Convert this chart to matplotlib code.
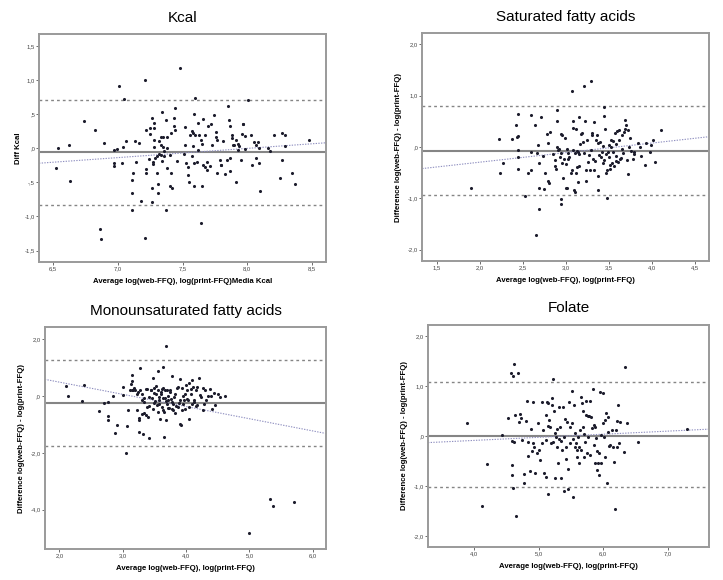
import matplotlib
matplotlib.use("Agg")
import matplotlib.pyplot as plt
import numpy as np

plt.rcParams['font.family'] = ['Liberation Sans', 'DejaVu Sans']

# ---- Kcal: (average, difference) ----
kcal_pts = np.array([
    (6.52, -0.29), (6.54, 0.00), (6.62, 0.04), (6.63, -0.48), (6.74, 0.40), (6.82, 0.27),
    (6.89, 0.07), (6.97, -0.03), (6.97, -0.26), (6.97, -0.22), (6.99, -0.01), (7.01, 0.91),
    (7.03, -0.22), (7.05, 0.72), (7.04, 0.02), (7.06, 0.11), (7.11, -0.46), (7.11, -0.65),
    (7.12, -0.37), (7.13, 0.10), (7.14, -0.20), (7.16, 0.07), (7.11, -0.90), (7.18, -0.78),
    (6.86, -1.18), (6.87, -1.33), (7.21, -1.32), (7.21, 1.00), (7.22, 0.26), (7.22, -0.31),
    (7.22, -0.36), (7.24, -0.16), (7.25, 0.21), (7.25, 0.30), (7.26, -0.59), (7.26, -0.79),
    (7.26, 0.44), (7.27, -0.20), (7.27, -0.23), (7.28, 0.37), (7.28, 0.02), (7.28, 0.12),
    (7.28, 0.30), (7.29, -0.14), (7.30, -0.37), (7.30, -0.12), (7.31, -0.52), (7.31, -0.66),
    (7.32, 0.11), (7.32, -0.09), (7.33, 0.05), (7.33, 0.17), (7.33, -0.10), (7.34, -0.19),
    (7.34, 0.53), (7.35, 0.02), (7.35, 0.17), (7.36, -0.11), (7.36, -0.04), (7.37, 0.42),
    (7.37, -0.90), (7.38, -0.29), (7.38, 0.00), (7.38, 0.17), (7.40, -0.10), (7.40, -0.55),
    (7.41, 0.22), (7.41, -0.36), (7.42, -0.58), (7.43, 0.32), (7.43, 0.44), (7.44, 0.59),
    (7.44, 0.27), (7.48, 1.17), (7.46, -0.19), (7.51, -0.08), (7.52, 0.31), (7.52, 0.05),
    (7.53, -0.22), (7.54, -0.27), (7.54, -0.39), (7.55, -0.50), (7.56, 0.19), (7.57, -0.12),
    (7.57, 0.25), (7.58, 0.22), (7.58, 0.03), (7.59, -0.22), (7.59, 0.50), (7.59, -0.55),
    (7.60, 0.73), (7.60, 0.20), (7.61, -0.20), (7.62, 0.37), (7.62, -0.02), (7.63, 0.20),
    (7.64, 0.12), (7.64, -1.10), (7.65, -0.56), (7.65, 0.06), (7.66, -0.25), (7.66, 0.43),
    (7.67, 0.19), (7.67, -0.28), (7.69, -0.32), (7.69, -0.20), (7.70, 0.33), (7.71, -0.26),
    (7.72, 0.36), (7.73, 0.05), (7.74, 0.48), (7.76, 0.24), (7.76, 0.17), (7.77, 0.12),
    (7.77, -0.37), (7.79, -0.17), (7.80, -0.25), (7.80, -0.24), (7.81, 0.10), (7.83, -0.38),
    (7.84, -0.17), (7.85, 0.62), (7.86, 0.41), (7.87, -0.14), (7.87, 0.33), (7.87, -0.33),
    (7.88, 0.15), (7.88, 0.19), (7.89, 0.04), (7.90, 0.04), (7.91, -0.49), (7.91, 0.12),
    (7.93, -0.02), (7.93, 0.06), (7.94, 0.03), (7.95, -0.18), (7.96, 0.21), (7.97, 0.36),
    (7.97, 0.35), (7.98, 0.18), (7.98, -0.01), (8.01, 0.70), (8.03, 0.19), (8.04, -0.25),
    (8.05, 0.09), (8.07, -0.14), (8.07, 0.04), (8.08, 0.09), (8.09, -0.22), (8.09, 0.00),
    (8.10, -0.62), (8.16, 0.00), (8.18, -0.04), (8.21, 0.20), (8.25, -0.44), (8.27, -0.17),
    (8.27, 0.22), (8.29, 0.03), (8.29, 0.19), (8.35, -0.36), (8.37, -0.53), (8.48, 0.12),
])
kcal_mean, kcal_upper, kcal_lower = -0.06, 0.71, -0.83
kcal_slope, kcal_intercept = 0.135, -1.083

# ---- Saturated fatty acids ----
sfa_pts = np.array([
    (1.90, -0.79), (2.22, 0.16), (2.24, -0.51), (2.27, -0.31), (2.38, 0.16), (2.42, 0.42),
    (2.43, 0.20), (2.44, 0.22), (2.45, 0.64), (2.45, -0.06), (2.45, -0.19), (2.45, -0.42),
    (2.53, -0.95), (2.56, -0.51), (2.60, -0.45), (2.60, -0.10), (2.60, 0.62), (2.64, 0.42),
    (2.67, -0.11), (2.68, 0.04), (2.69, -0.32), (2.69, -0.80), (2.69, -1.20), (2.65, -1.72),
    (2.71, 0.58), (2.74, -0.17), (2.75, -0.81), (2.76, -0.50), (2.78, 0.25), (2.79, -0.67),
    (2.79, 0.07), (2.80, -0.70), (2.82, 0.30), (2.85, -0.14), (2.87, -0.25), (2.88, -0.36),
    (2.89, -0.42), (2.90, 0.01), (2.90, 0.72), (2.90, 0.50), (2.91, -0.06), (2.92, -0.03),
    (2.93, -0.20), (2.94, -1.02), (2.95, -1.11), (2.95, 0.25), (2.95, -0.12), (2.96, 0.23),
    (2.96, -0.32), (2.97, -0.61), (2.98, -0.24), (2.99, 0.17), (3.00, -0.33), (3.00, -0.79),
    (3.01, -0.03), (3.02, -0.79), (3.03, -0.11), (3.03, -0.24), (3.04, -0.19), (3.06, -0.51),
    (3.07, -0.44), (3.07, 1.09), (3.08, 0.50), (3.09, 0.37), (3.09, -0.06), (3.10, -0.83),
    (3.11, -0.12), (3.11, -0.87), (3.12, 0.36), (3.12, -0.51), (3.13, -0.38), (3.13, -0.07),
    (3.14, -0.68), (3.14, -0.09), (3.15, 0.58), (3.16, -0.14), (3.16, -0.36), (3.17, 0.06),
    (3.18, 0.26), (3.19, 0.27), (3.20, 0.10), (3.21, 1.18), (3.21, -0.12), (3.22, 0.50),
    (3.23, -0.66), (3.24, -0.45), (3.25, 0.14), (3.26, -0.30), (3.27, -0.16), (3.28, -0.45),
    (3.29, 1.28), (3.29, -0.05), (3.30, 0.24), (3.31, 0.27), (3.32, -0.24), (3.33, -0.44),
    (3.33, 0.48), (3.34, -0.27), (3.35, 0.14), (3.36, 0.23), (3.37, 0.07), (3.38, -0.57),
    (3.38, -0.84), (3.39, -0.16), (3.40, 0.10), (3.41, -0.19), (3.42, -0.10), (3.43, 0.02),
    (3.43, -0.32), (3.44, 0.61), (3.44, 0.78), (3.45, -0.25), (3.46, 0.35), (3.47, -0.51),
    (3.47, -0.14), (3.48, -1.00), (3.48, -0.45), (3.49, -0.10), (3.50, 0.03), (3.50, -0.19),
    (3.51, -0.35), (3.52, -0.42), (3.53, 0.14), (3.53, 0.01), (3.54, -0.32), (3.55, -0.09),
    (3.55, 0.12), (3.56, -0.37), (3.57, 0.27), (3.58, -0.27), (3.59, -0.18), (3.59, 0.06),
    (3.60, 0.32), (3.61, -0.29), (3.62, 0.14), (3.62, 0.33), (3.63, -0.24), (3.64, -0.21),
    (3.65, -0.04), (3.66, 0.23), (3.67, -0.12), (3.68, 0.30), (3.69, 0.36), (3.69, 0.52),
    (3.70, 0.43), (3.71, -0.25), (3.72, 0.33), (3.73, -0.53), (3.74, 0.01), (3.75, 0.17),
    (3.76, -0.07), (3.78, -0.24), (3.79, -0.09), (3.80, -0.14), (3.84, 0.07), (3.86, 0.01),
    (3.87, -0.17), (3.92, -0.35), (3.93, 0.08), (3.98, -0.09), (3.99, 0.04), (4.01, 0.14),
    (4.04, -0.30), (4.11, 0.33),
])
sfa_mean, sfa_upper, sfa_lower = -0.07, 0.79, -0.93
sfa_slope, sfa_intercept = 0.186, -0.667

# ---- Monounsaturated fatty acids ----
mufa_pts = np.array([
    (2.11, 0.35), (2.14, 0.01), (2.36, -0.19), (2.39, 0.38), (2.63, -0.53), (2.70, -0.23),
    (2.76, -0.69), (2.76, -0.83), (2.76, -0.21), (2.84, -0.01), (2.87, -1.30), (2.91, -1.02),
    (3.00, 0.02), (3.01, 0.33), (3.05, -2.02), (3.06, -1.07), (3.09, -0.50), (3.11, 0.22),
    (3.13, 0.43), (3.14, 0.53), (3.14, 0.20), (3.15, 0.73), (3.16, 0.23), (3.17, 0.27),
    (3.20, 0.23), (3.22, 0.06), (3.23, -0.50), (3.24, 0.14), (3.26, -0.86), (3.27, 0.98),
    (3.26, -0.76), (3.26, -1.25), (3.28, 0.20), (3.30, -0.15), (3.31, 0.08), (3.31, -0.62),
    (3.32, -1.35), (3.33, -0.22), (3.34, -0.06), (3.34, -0.60), (3.36, 0.26), (3.36, -0.68),
    (3.38, -0.39), (3.39, 0.25), (3.40, -0.74), (3.41, -0.35), (3.42, -1.48), (3.42, -0.04),
    (3.44, 0.21), (3.45, 0.22), (3.46, -0.08), (3.47, 0.64), (3.48, -0.46), (3.49, 0.28),
    (3.50, -0.25), (3.50, 0.11), (3.51, -0.19), (3.52, 0.34), (3.53, 0.06), (3.54, -0.33),
    (3.55, -0.56), (3.55, 0.88), (3.56, 0.20), (3.57, -0.02), (3.58, -0.14), (3.58, -0.27),
    (3.59, -0.81), (3.60, 0.15), (3.61, 0.08), (3.62, 0.26), (3.62, -0.39), (3.63, 1.02),
    (3.63, -0.06), (3.64, 0.27), (3.64, -0.50), (3.65, -1.44), (3.65, -0.55), (3.66, 0.20),
    (3.67, -0.06), (3.68, -0.19), (3.69, -0.83), (3.69, 1.75), (3.70, -0.27), (3.70, 0.22),
    (3.71, -0.01), (3.71, -0.41), (3.72, -0.13), (3.73, -0.43), (3.74, 0.13), (3.75, 0.20),
    (3.76, -0.09), (3.77, 0.69), (3.77, -0.45), (3.78, -0.21), (3.79, -0.27), (3.80, -0.50),
    (3.81, -0.04), (3.82, -0.60), (3.83, 0.06), (3.84, -0.36), (3.85, 0.28), (3.87, -0.39),
    (3.88, 0.32), (3.89, -0.25), (3.90, -0.15), (3.90, 0.61), (3.91, -0.97), (3.92, -1.02),
    (3.93, -0.50), (3.94, 0.29), (3.95, -0.27), (3.95, -0.01), (3.97, -0.15), (3.98, 0.08),
    (3.99, -0.46), (4.00, 0.38), (4.01, -0.09), (4.02, 0.20), (4.03, -0.15), (4.04, -0.39),
    (4.04, -0.80), (4.05, 0.46), (4.07, 0.26), (4.08, 0.08), (4.09, -0.27), (4.10, 0.57),
    (4.11, 0.32), (4.12, -0.15), (4.13, -0.21), (4.15, -0.36), (4.16, 0.20), (4.17, -0.33),
    (4.18, 0.32), (4.20, 0.64), (4.22, 0.05), (4.24, -0.04), (4.26, 0.29), (4.27, -0.48),
    (4.29, -0.27), (4.30, 0.21), (4.32, -0.15), (4.34, -0.01), (4.37, 0.26), (4.39, 0.01),
    (4.41, -0.45), (4.44, 0.11), (4.46, -0.33), (4.51, 0.06), (4.53, -0.04), (4.62, 0.00),
    (5.00, -4.82), (5.33, -3.62), (5.38, -3.86), (5.70, -3.73),
])
mufa_mean, mufa_upper, mufa_lower = -0.25, 1.28, -1.75
mufa_slope, mufa_intercept = -0.430, 1.351

# ---- Folate ----
fol_pts = np.array([
    (3.89, 0.26), (4.13, -1.39), (4.21, -0.56), (4.43, 0.03), (4.52, 0.36), (4.58, 1.27),
    (4.61, 1.21), (4.62, 1.44), (4.59, -0.57), (4.59, -0.77), (4.60, -1.04), (4.59, -0.09),
    (4.62, -0.11), (4.64, 0.43), (4.65, -1.61), (4.68, 1.26), (4.70, 0.29), (4.71, 0.45),
    (4.73, 0.36), (4.74, -0.07), (4.80, 0.31), (4.77, -0.75), (4.78, -0.93), (4.82, 0.70),
    (4.83, -0.11), (4.84, -0.39), (4.87, -0.70), (4.88, 0.15), (4.90, -0.30), (4.92, 0.68),
    (4.92, -0.14), (4.93, -0.21), (4.94, -0.73), (4.97, -0.33), (4.99, 0.27), (5.00, -0.27),
    (5.02, -0.47), (5.05, -0.13), (5.06, 0.68), (5.07, 0.13), (5.09, -0.74), (5.11, -0.07),
    (5.11, 0.43), (5.12, -0.82), (5.13, 0.69), (5.14, -1.15), (5.14, 0.21), (5.15, 0.66),
    (5.16, 0.33), (5.18, 0.19), (5.19, -0.14), (5.20, 0.63), (5.21, 0.76), (5.22, -0.11),
    (5.23, 1.14), (5.24, 0.51), (5.25, 0.06), (5.26, -0.84), (5.27, -0.01), (5.28, -0.21),
    (5.29, 0.15), (5.30, -0.54), (5.31, -0.05), (5.32, 0.58), (5.33, 0.19), (5.34, -0.84),
    (5.35, -0.09), (5.36, -0.27), (5.38, 0.59), (5.39, -1.09), (5.40, -0.01), (5.41, 0.34),
    (5.42, -0.21), (5.43, -0.46), (5.44, 0.29), (5.45, -0.66), (5.46, -1.05), (5.47, 0.69),
    (5.48, -0.14), (5.49, 0.19), (5.51, 0.91), (5.52, 0.27), (5.53, -1.21), (5.54, -0.06),
    (5.55, 0.63), (5.56, -0.21), (5.57, 0.07), (5.58, -0.13), (5.59, -0.27), (5.60, -0.42),
    (5.61, -0.01), (5.62, -0.54), (5.63, -0.21), (5.64, 0.13), (5.65, 0.78), (5.66, -0.27),
    (5.67, 0.66), (5.68, 0.51), (5.69, 0.18), (5.70, 0.05), (5.71, -0.41), (5.72, -0.11),
    (5.73, 0.70), (5.74, 0.43), (5.75, -0.34), (5.76, 0.41), (5.77, -0.01), (5.78, 0.41),
    (5.79, 0.71), (5.80, -0.37), (5.81, 0.39), (5.83, 0.16), (5.84, 0.95), (5.85, 0.23),
    (5.86, -0.17), (5.87, -0.54), (5.88, 0.19), (5.89, -0.04), (5.90, -0.29), (5.91, -0.67),
    (5.92, -0.54), (5.93, -0.77), (5.94, -0.34), (5.95, 0.89), (5.96, 0.03), (5.97, -0.54),
    (5.99, 0.27), (6.00, 0.86), (6.01, -0.01), (6.02, 0.33), (6.03, -0.41), (6.04, 0.46),
    (6.06, -0.93), (6.07, 0.09), (6.08, 0.38), (6.09, -0.19), (6.11, -0.17), (6.13, 0.13),
    (6.15, -0.21), (6.17, -0.51), (6.18, -1.46), (6.19, 0.13), (6.21, 0.31), (6.22, -0.21),
    (6.23, 0.63), (6.25, -0.13), (6.26, 0.29), (6.32, -0.31), (6.34, 1.38), (6.36, 0.26),
    (6.54, -0.11), (7.30, 0.15),
])
fol_mean, fol_upper, fol_lower = 0.01, 1.09, -1.01
fol_slope, fol_intercept = 0.062, -0.334

# tick positions / labels (SPSS style, decimal comma)
kcal_xt = [6.5, 7.0, 7.5, 8.0, 8.5]
kcal_xl = ['6,5', '7,0', '7,5', '8,0', '8,5']
kcal_yt = [-1.5, -1.0, -0.5, 0.0, 0.5, 1.0, 1.5]
kcal_yl = ['-1,5', '-1,0', '-,5', ',0', ',5', '1,0', '1,5']
sfa_xt = [1.5, 2.0, 2.5, 3.0, 3.5, 4.0, 4.5]
sfa_xl = ['1,5', '2,0', '2,5', '3,0', '3,5', '4,0', '4,5']
sfa_yt = [-2.0, -1.0, 0.0, 1.0, 2.0]
sfa_yl = ['-2,0', '-1,0', ',0', '1,0', '2,0']
mufa_xt = [2.0, 3.0, 4.0, 5.0, 6.0]
mufa_xl = ['2,0', '3,0', '4,0', '5,0', '6,0']
mufa_yt = [-4.0, -2.0, 0.0, 2.0]
mufa_yl = ['-4,0', '-2,0', ',0', '2,0']
fol_xt = [4.0, 5.0, 6.0, 7.0]
fol_xl = ['4,0', '5,0', '6,0', '7,0']
fol_yt = [-2.0, -1.0, 0.0, 1.0, 2.0]
fol_yl = ['-2,0', '-1,0', ',0', '1,0', '2,0']

xlab = 'Average log(web-FFQ), log(print-FFQ)'
ylab = 'Difference log(web-FFQ) - log(print-FFQ)'

fig = plt.figure(figsize=(7.23, 5.80), dpi=100)

frame = '#9a9a9a'
ref = '#858585'


def panel(rect, pts, mean, upper, lower, slope, icpt, xlim, ylim,
          xt, xl, yt, yl, title, xlabel, ylabel, ylab_pad):
    ax = fig.add_axes(rect)
    ax.set_xlim(*xlim)
    ax.set_ylim(*ylim)
    ax.axhline(mean, color=ref, lw=1.5, zorder=1)
    ax.axhline(upper, color=ref, lw=1.0, ls=(0, (2, 2.2)), zorder=1)
    ax.axhline(lower, color=ref, lw=1.0, ls=(0, (2, 2.2)), zorder=1)
    ax.axline((0, icpt), slope=slope, color='#8f8fc0', lw=0.8, ls=(0, (1.2, 1.2)), zorder=1)
    ax.scatter(pts[:, 0], pts[:, 1], s=5, marker='o', color='#1c1c2c', lw=0, zorder=3)
    ax.set_xticks(xt)
    ax.set_xticklabels(xl)
    ax.set_yticks(yt)
    ax.set_yticklabels(yl)
    ax.tick_params(length=2, width=0.6, color='#555555', labelsize=4.2,
                   labelcolor='#444444', pad=1)
    for s in ax.spines.values():
        s.set_color(frame)
        s.set_linewidth(1.4)
    ax.set_title(title, fontsize=11, pad=9)
    ax.set_xlabel(xlabel, fontsize=5.6, fontweight='bold', labelpad=5)
    ax.set_ylabel(ylabel, fontsize=5.6, fontweight='bold', labelpad=ylab_pad)
    return ax


panel([0.054, 0.548, 0.397, 0.393], kcal_pts, kcal_mean, kcal_upper, kcal_lower,
      kcal_slope, kcal_intercept, (6.39, 8.61), (-1.67, 1.67),
      kcal_xt, kcal_xl, kcal_yt, kcal_yl, 'Kcal',
      'Average log(web-FFQ), log(print-FFQ)Media Kcal', 'Diff Kcal', 2)
panel([0.584, 0.550, 0.397, 0.393], sfa_pts, sfa_mean, sfa_upper, sfa_lower,
      sfa_slope, sfa_intercept, (1.33, 4.67), (-2.22, 2.22),
      sfa_xt, sfa_xl, sfa_yt, sfa_yl, 'Saturated fatty acids', xlab, ylab, 4)
panel([0.062, 0.053, 0.389, 0.383], mufa_pts, mufa_mean, mufa_upper, mufa_lower,
      mufa_slope, mufa_intercept, (1.77, 6.21), (-5.40, 2.43),
      mufa_xt, mufa_xl, mufa_yt, mufa_yl, 'Monounsaturated fatty acids', xlab, ylab, 4)
panel([0.592, 0.057, 0.389, 0.383], fol_pts, fol_mean, fol_upper, fol_lower,
      fol_slope, fol_intercept, (3.29, 7.64), (-2.22, 2.23),
      fol_xt, fol_xl, fol_yt, fol_yl, 'Folate', xlab, ylab, 4)

fig.savefig('out.png', dpi=100, facecolor='white')
